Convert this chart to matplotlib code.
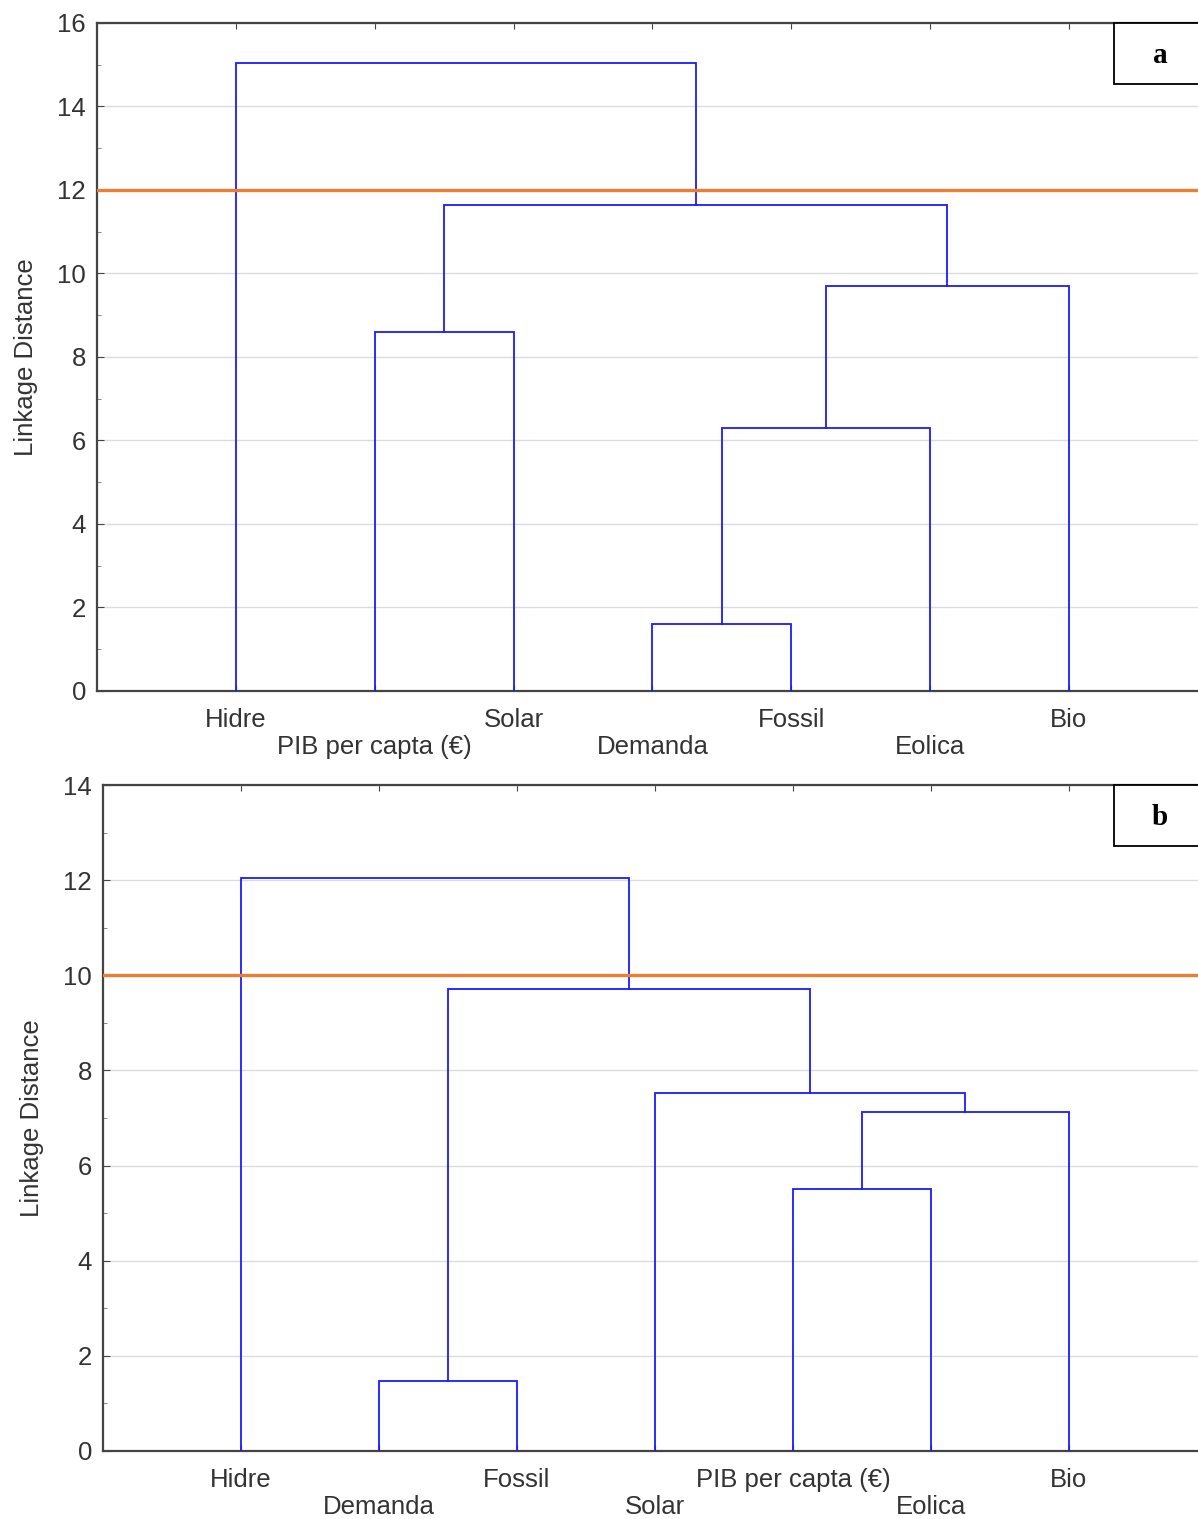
import matplotlib.pyplot as plt
from matplotlib.patches import Rectangle
from matplotlib.ticker import MultipleLocator

plt.rcParams['font.family'] = ['Liberation Sans', 'DejaVu Sans']

# leaf order along the x axis
leaves_a = ["Hidre", "PIB per capta (€)", "Solar", "Demanda", "Fossil", "Eolica", "Bio"]
leaves_b = ["Hidre", "Demanda", "Fossil", "Solar", "PIB per capta (€)", "Eolica", "Bio"]

# merges: (cluster id, cluster id, linkage distance); new clusters get ids 7, 8, ...
merges_a = [(3, 4, 1.6), (7, 5, 6.3), (1, 2, 8.6), (8, 6, 9.7), (9, 10, 11.65), (0, 11, 15.05)]
merges_b = [(1, 2, 1.47), (4, 5, 5.51), (8, 6, 7.13), (3, 9, 7.53), (7, 10, 9.71), (0, 11, 12.05)]

cut_a = 12
cut_b = 10

FS = 18.5


def draw_dendro(ax, leaves, merges, cut, ymax, tag):
    xs = [i + 1 for i in range(len(leaves))]
    hs = [0.0] * len(leaves)
    for a, b, h in merges:
        ax.plot([xs[a], xs[a], xs[b], xs[b]], [hs[a], h, h, hs[b]],
                color="#1a1aff", lw=1.3, zorder=3, solid_joinstyle="miter")
        xs.append((xs[a] + xs[b]) / 2)
        hs.append(h)

    ax.axhline(cut, color="#ed7d31", lw=2.4, zorder=4)

    ax.set_xlim(0, len(leaves) + 1)
    ax.set_ylim(0, ymax)
    ax.yaxis.set_major_locator(MultipleLocator(2))
    ax.yaxis.set_minor_locator(MultipleLocator(1))
    ax.grid(axis="y", color="#dcdcdc", lw=1.0, zorder=0)

    ticks = list(range(1, len(leaves) + 1))
    labels = [name if i % 2 == 0 else "\n" + name for i, name in enumerate(leaves)]
    ax.set_xticks(ticks)
    ax.set_xticklabels(labels, fontsize=FS, color="#333333", linespacing=1.2)
    ax.tick_params(axis="x", direction="in", length=4, top=True, pad=12,
                   color="#444444")
    ax.tick_params(axis="y", which="major", direction="in", length=5,
                   labelsize=FS, labelcolor="#333333", pad=8, color="#444444")
    ax.tick_params(axis="y", which="minor", direction="in", length=3,
                   color="#777777")

    for s in ax.spines.values():
        s.set_color("#444444")
        s.set_linewidth(1.6)

    ax.set_ylabel("Linkage Distance", fontsize=FS, color="#333333", labelpad=14)

    # panel tag box in the upper right corner
    ax.add_patch(Rectangle((0.9155, 0.9087), 0.2, 0.0913, transform=ax.transAxes,
                           facecolor="white", edgecolor="black", lw=1.3,
                           zorder=5, clip_on=False))
    ax.text(0.957, 0.951, tag, transform=ax.transAxes, fontsize=21,
            fontweight="bold", family="Liberation Serif", ha="center",
            va="center", zorder=6)


fig = plt.figure(figsize=(11.98, 15.19), dpi=100)
ax_a = fig.add_axes([0.0811, 0.5451, 0.927, 0.4398])
ax_b = fig.add_axes([0.0860, 0.0448, 0.9215, 0.4384])

draw_dendro(ax_a, leaves_a, merges_a, cut_a, 16, "a")
draw_dendro(ax_b, leaves_b, merges_b, cut_b, 14, "b")

fig.savefig("out.png", dpi=100)
